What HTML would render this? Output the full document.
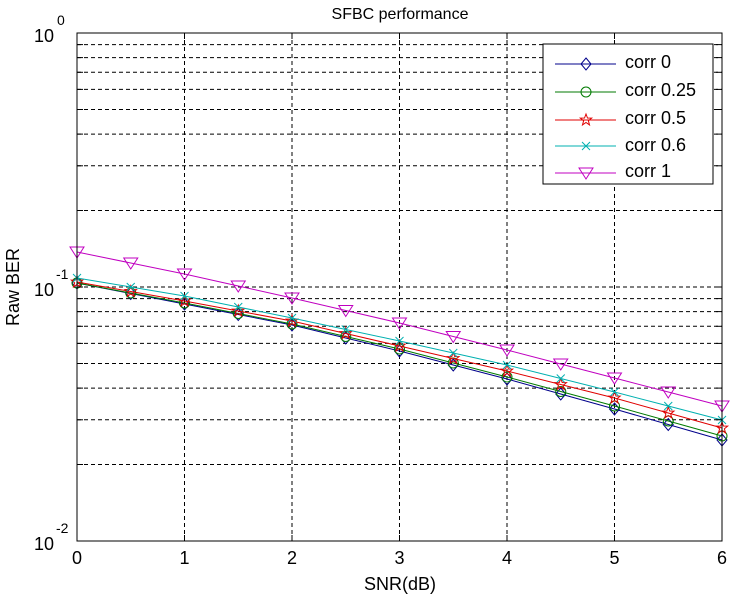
<!DOCTYPE html>
<html><head><style>
html,body{margin:0;padding:0;background:#fff;}
svg{display:block;font-family:"Liberation Sans",Arial,sans-serif;}
</style></head><body>
<svg id="s" width="736" height="599" viewBox="0 0 736 599" xmlns="http://www.w3.org/2000/svg">
<rect width="736" height="599" fill="#fff"/>
<g id="grid" stroke="#000" stroke-width="1" stroke-dasharray="4,3" fill="none"></g>
<g id="series"></g>
<rect x="77" y="33" width="645" height="508" fill="none" stroke="#000" stroke-width="1"/>
<text x="400" y="19" font-size="16" text-anchor="middle">SFBC performance</text>
<text x="400" y="590" font-size="18" text-anchor="middle">SNR(dB)</text>
<text transform="translate(19,287) rotate(-90)" font-size="18" text-anchor="middle">Raw BER</text>
<g font-size="18" text-anchor="middle">
<text x="77" y="564">0</text><text x="184.5" y="564">1</text><text x="292" y="564">2</text><text x="399.5" y="564">3</text><text x="507" y="564">4</text><text x="614.5" y="564">5</text><text x="722" y="564">6</text>
</g>
<g font-size="18">
<text x="34" y="42">10</text><text x="57" y="25" font-size="14">0</text>
<text x="34" y="296">10</text><text x="56" y="279" font-size="14">-1</text>
<text x="34" y="550">10</text><text x="56" y="533" font-size="14">-2</text>
</g>
<rect x="543" y="44" width="170" height="140" fill="#fff" stroke="#000"/>
<g id="leg"></g>
<g font-size="18">
<text x="625" y="68">corr 0</text>
<text x="625" y="96">corr 0.25</text>
<text x="625" y="124">corr 0.5</text>
<text x="625" y="151">corr 0.6</text>
<text x="625" y="177">corr 1</text>
</g>
</svg>
<script>
const NS="http://www.w3.org/2000/svg";
function el(t,a,p){const e=document.createElementNS(NS,t);for(const k in a)e.setAttribute(k,a[k]);p.appendChild(e);return e;}
const g=document.getElementById('grid');
const offs=[76.5,121.2,152.9,177.5,197.6,214.7,229.4,242.4];
let ys=[287];offs.forEach(o=>{ys.push(287-o);ys.push(541-o);});
ys.forEach(y=>el('line',{x1:77,x2:722,y1:y,y2:y},g));
for(let i=1;i<6;i++){const x=77+107.5*i;el('line',{x1:x,x2:x,y1:33,y2:541},g);}
const ax=document.getElementById('s');
ys.forEach(y=>{el('line',{x1:77,x2:83,y1:y,y2:y,stroke:'#000'},ax);el('line',{x1:716,x2:722,y1:y,y2:y,stroke:'#000'},ax);});
for(let i=1;i<6;i++){const x=77+107.5*i;el('line',{x1:x,x2:x,y1:33,y2:39,stroke:'#000'},ax);el('line',{x1:x,x2:x,y1:535,y2:541,stroke:'#000'},ax);}
function interp(pts){const r=[];for(let i=0;i<13;i++){const s=i*0.5;let j=0;while(j<pts.length-2&&pts[j+1][0]<s)j++;const a=pts[j],b=pts[j+1];r.push(a[1]+(b[1]-a[1])*(s-a[0])/(b[0]-a[0]));}return r;}
const S=[
 {c:'#00008b',m:'d',p:[[0,283],[1,304],[2,325],[3,351],[4,379],[5,409],[6,440]]},
 {c:'#007a00',m:'o',p:[[0,283],[1,303],[2,324],[3,349],[4,377],[5,406],[6,436]]},
 {c:'#e00000',m:'star',p:[[0,282],[1,301],[2,321],[3,346],[4,371],[5,398],[6,428]]},
 {c:'#00b0b0',m:'x',p:[[0,278],[1,296],[2,318],[3,341],[4,365],[5,392],[6,420]]},
 {c:'#c000c0',m:'v',p:[[0,252],[1,274],[2,298],[3,323],[4,350],[5,378],[6,406]]}
];
const sg=document.getElementById('series'),lg=document.getElementById('leg');
function mark(m,x,y,c,p){
 const a={fill:'none',stroke:c,'stroke-width':1};
 if(m=='d')el('polygon',Object.assign({points:`${x},${y-6} ${x+5},${y} ${x},${y+6} ${x-5},${y}`},a),p);
 if(m=='o')el('circle',Object.assign({cx:x,cy:y,r:5},a),p);
 if(m=='x'){el('line',Object.assign({x1:x-4,y1:y-4,x2:x+4,y2:y+4},a),p);el('line',Object.assign({x1:x-4,y1:y+4,x2:x+4,y2:y-4},a),p);}
 if(m=='v')el('polygon',Object.assign({points:`${x-7},${y-5} ${x+7},${y-5} ${x},${y+6}`},a),p);
 if(m=='star'){let pts=[];for(let k=0;k<10;k++){const r=k%2?2.5:6,t=-Math.PI/2+k*Math.PI/5;pts.push((x+r*Math.cos(t)).toFixed(1)+','+(y+r*Math.sin(t)).toFixed(1));}el('polygon',Object.assign({points:pts.join(' ')},a),p);}
}
const ly=[64,92,120,146,173];
S.forEach((s,i)=>{
 const v=interp(s.p);
 el('polyline',{points:v.map((y,k)=>(77+53.75*k)+','+y).join(' '),fill:'none',stroke:s.c,'stroke-width':1},sg);
 v.forEach((y,k)=>mark(s.m,77+53.75*k,y,s.c,sg));
 el('line',{x1:555,x2:616,y1:ly[i],y2:ly[i],stroke:s.c},lg);
 mark(s.m,586,ly[i],s.c,lg);
});
</script>
</body></html>
